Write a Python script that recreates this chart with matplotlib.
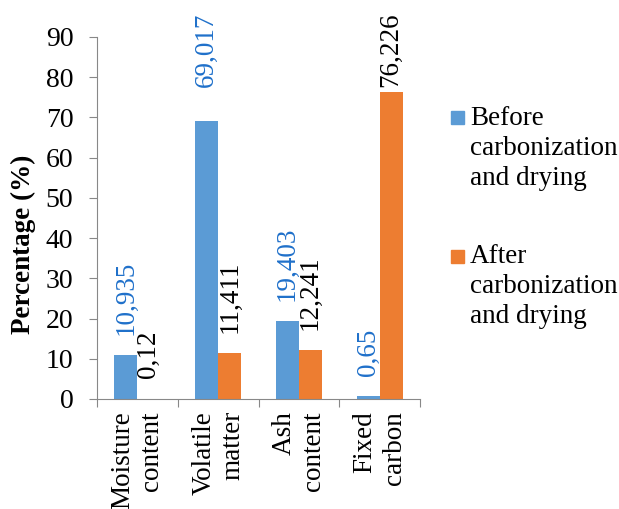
import matplotlib.pyplot as plt
from matplotlib.patches import Rectangle
import numpy as np

plt.rcParams['font.family'] = ['Liberation Serif', 'DejaVu Serif']

# proximate analysis values before / after carbonization
categories = ['Moisture\ncontent', 'Volatile\nmatter', 'Ash\ncontent', 'Fixed\ncarbon']
before = [10.935, 69.017, 19.403, 0.65]
after = [0.12, 11.411, 12.241, 76.226]
before_txt = ['10,935', '69,017', '19,403', '0,65']
after_txt = ['0,12', '11,411', '12,241', '76,226']
series = ['Before\ncarbonization\nand drying', 'After\ncarbonization\nand drying']

blue = '#5B9BD5'
orange = '#ED7D31'
W, H = 619, 509
fs = 19.5

fig = plt.figure(figsize=(W/100, H/100), dpi=100)
ax = fig.add_axes([97/W, 1-399/H, 323/W, 362/H])

x = np.arange(len(categories))
w = 0.285
ax.bar(x - w/2, before, w, color=blue)
ax.bar(x + w/2, after, w, color=orange)

# value labels, rotated, just above each bar (tall ones pinned under the top edge)
def put_label(xpos, v, t, col):
    y = v + 5
    if y + 18 > 88:
        ax.text(xpos, 96, t, rotation=90, ha='center', va='top', fontsize=fs, color=col)
    else:
        ax.text(xpos, y, t, rotation=90, ha='center', va='bottom', fontsize=fs, color=col)

for xi, v, t in zip(x, before, before_txt):
    put_label(xi - w/2, v, t, '#1F70CA')
for xi, v, t in zip(x, after, after_txt):
    put_label(xi + w/2, v, t, 'black')

ax.set_xlim(-0.5, 3.5)
ax.set_ylim(0, 90)
ax.set_yticks(range(0, 91, 10))
ax.tick_params(axis='y', labelsize=20, length=5.5, pad=11.5, color='#888888', direction='out')
ax.set_ylabel('Percentage (%)', fontsize=fs, fontweight='bold')
ax.yaxis.set_label_coords(-0.188, 0.428)

# category boundaries as tick marks, names placed in the middle
ax.set_xticks(np.arange(-0.5, 4, 1))
ax.set_xticklabels([])
ax.tick_params(axis='x', length=5.5, color='#888888', direction='out')
for xi, c in zip(x, categories):
    ax.text(xi, -3, c, rotation=90, ha='center', va='top', multialignment='right',
            fontsize=fs, linespacing=1.2)

for s in ['top', 'right']:
    ax.spines[s].set_visible(False)
for s in ['left', 'bottom']:
    ax.spines[s].set_color('#888888')

# legend on the right: square next to the first line of each entry
for (sq_top, base), col, name in zip([(111, 125), (250, 263)], [blue, orange], series):
    fig.add_artist(Rectangle((451/W, 1-(sq_top+13)/H), 13/W, 13/H,
                             color=col, transform=fig.transFigure))
    for k, line in enumerate(name.split('\n')):
        fig.text(470/W, 1-(base+30*k)/H, line, fontsize=fs, va='baseline', ha='left')

fig.savefig('out.png', dpi=100)
